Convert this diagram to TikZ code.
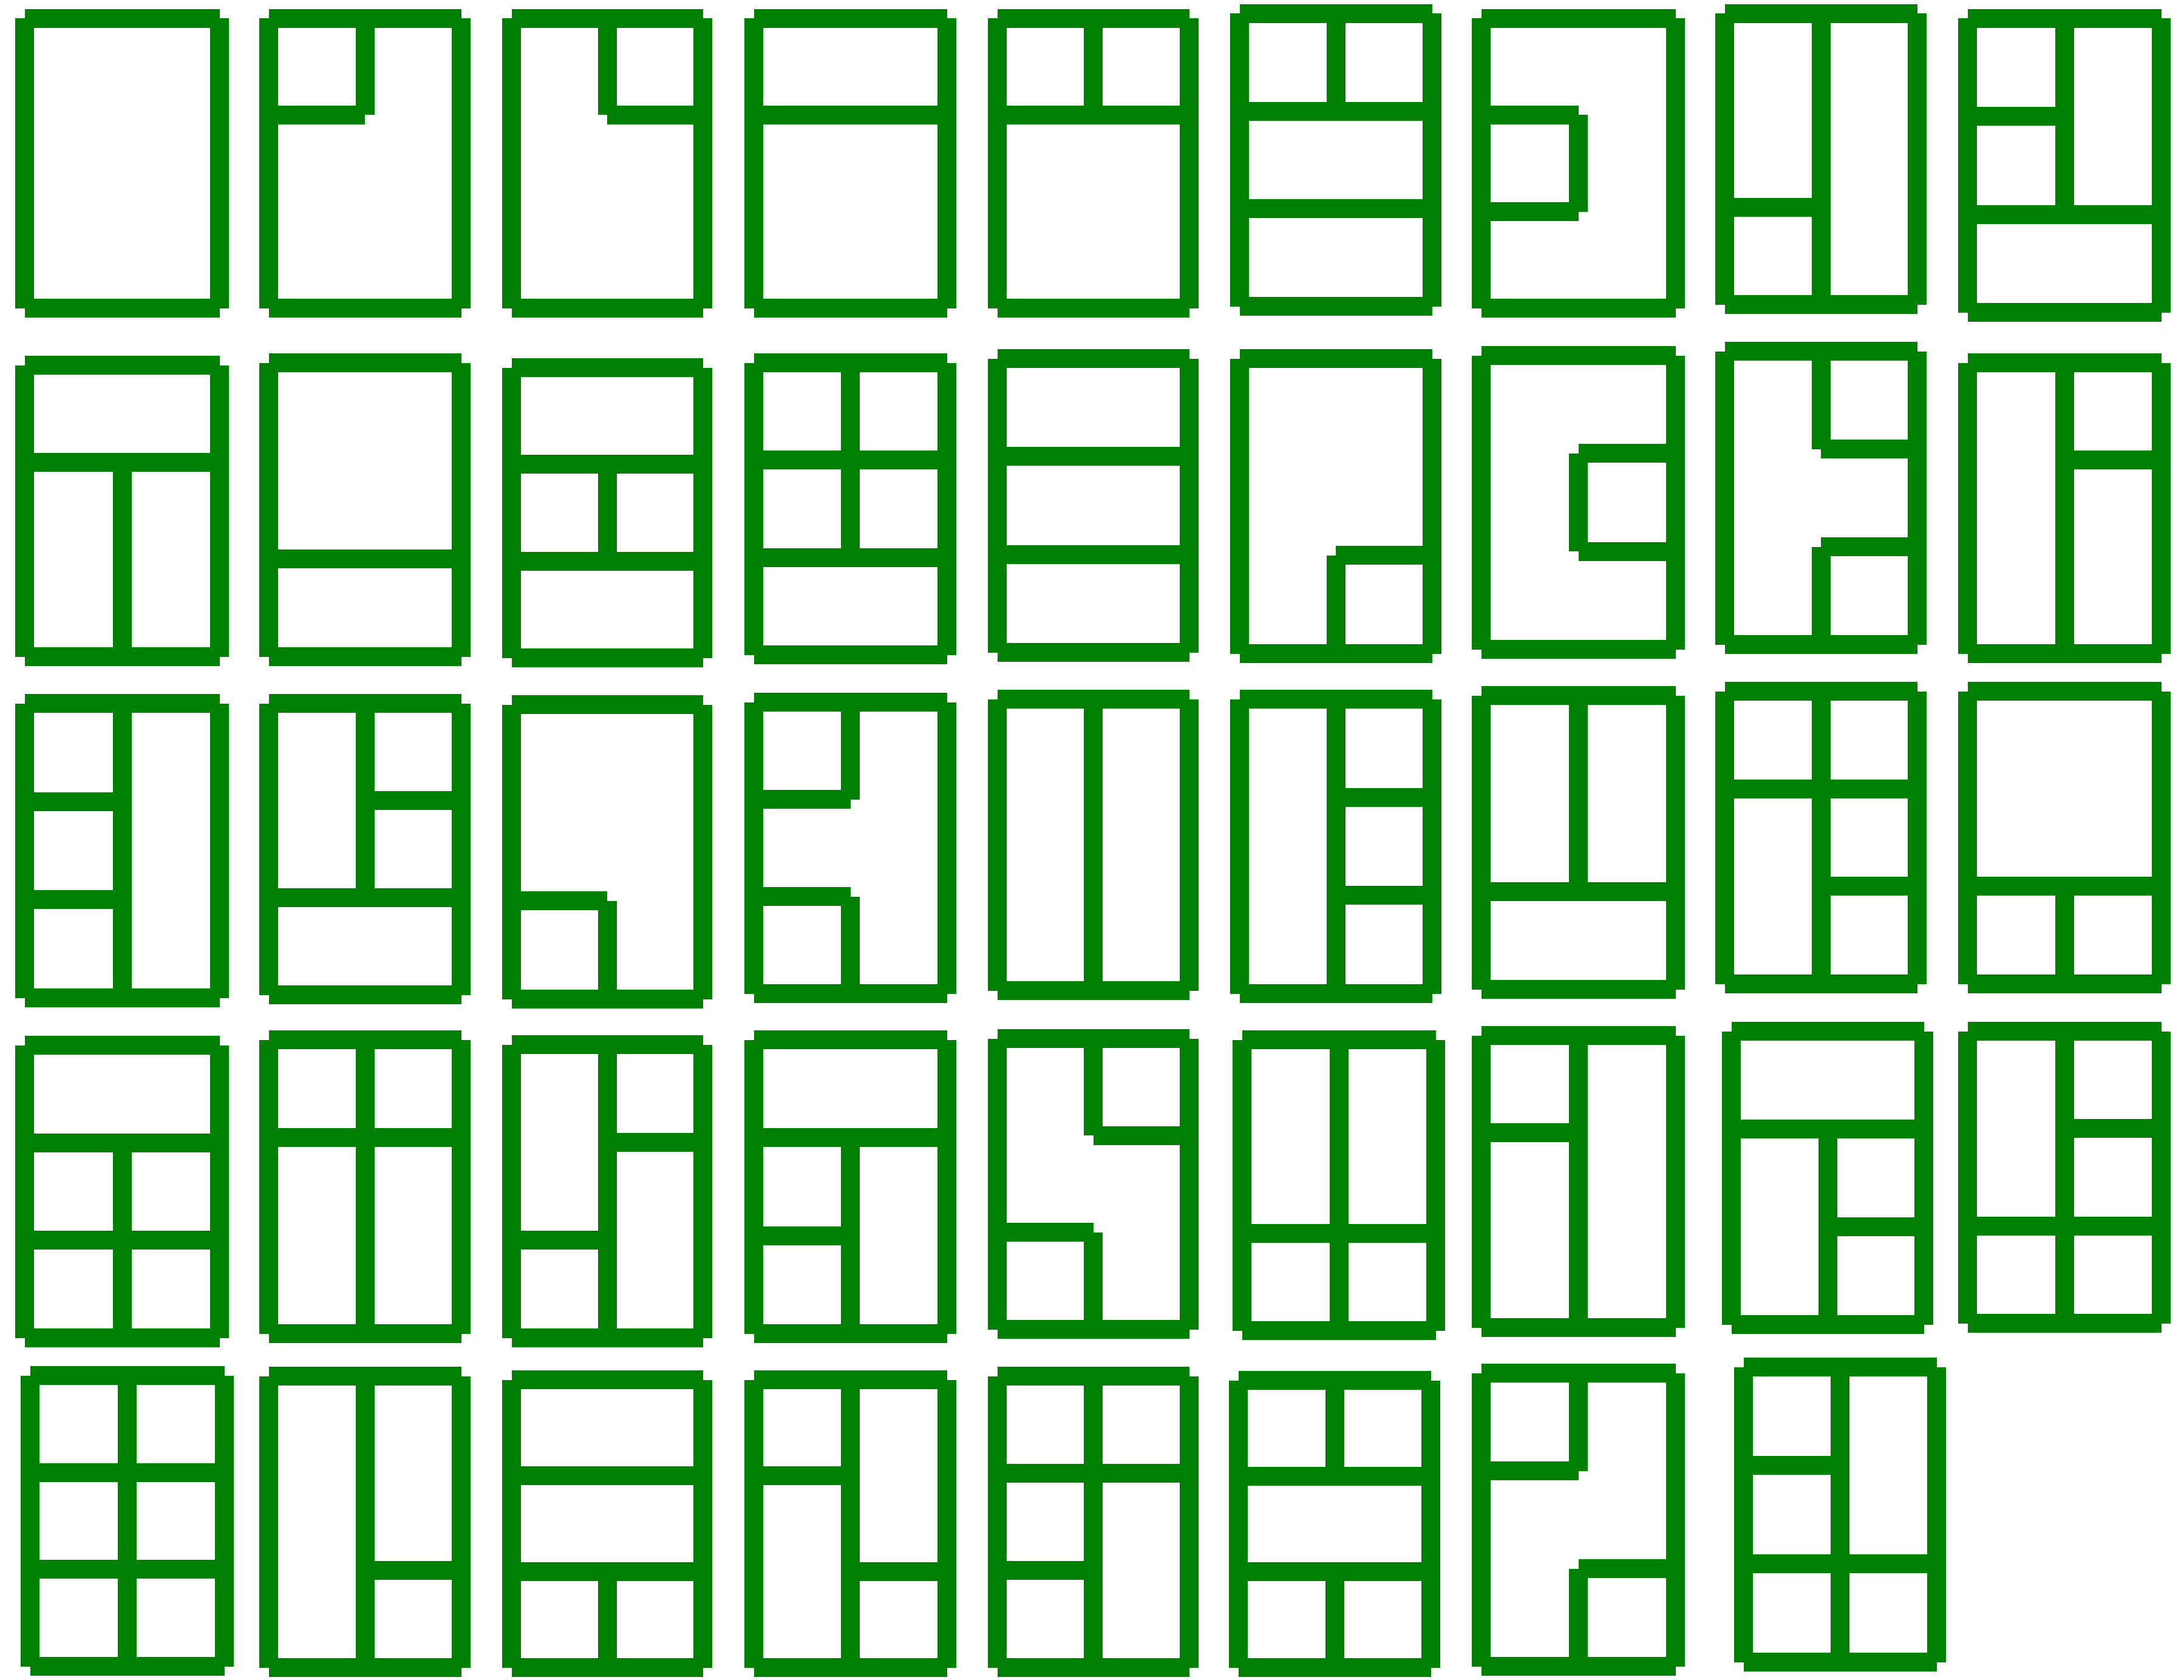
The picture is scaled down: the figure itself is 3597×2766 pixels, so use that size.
\documentclass[tikz,border=0pt]{standalone}
\definecolor{wallgreen}{RGB}{0,128,0}
\tikzset{wall/.style={draw=wallgreen,line width=3.1mm,line cap=butt}}
% internal wall segments of a 2x3 grid
\newcommand\wVa{\draw[wall] (\pxm,\pya) -- (\pxm,\pyb);}
\newcommand\wVb{\draw[wall] (\pxm,\pyb) -- (\pxm,\pyc);}
\newcommand\wVc{\draw[wall] (\pxm,\pyc) -- (\pxm,\pyd);}
\newcommand\wHa{\draw[wall] (\pxa,\pyb) -- (\pxm,\pyb);}
\newcommand\wHb{\draw[wall] (\pxm,\pyb) -- (\pxb,\pyb);}
\newcommand\wHc{\draw[wall] (\pxa,\pyc) -- (\pxm,\pyc);}
\newcommand\wHd{\draw[wall] (\pxm,\pyc) -- (\pxb,\pyc);}
\newcommand\plan[5]{%
  \pgfmathsetmacro\pxa{#1+15.5}\pgfmathsetmacro\pxb{#3-15.5}%
  \pgfmathsetmacro\pya{#2+15.5}\pgfmathsetmacro\pyd{#4-15.5}%
  \pgfmathsetmacro\pxm{(\pxa+\pxb)/2}%
  \pgfmathsetmacro\pyb{\pya+(\pyd-\pya)/3}%
  \pgfmathsetmacro\pyc{\pya+2*(\pyd-\pya)/3}%
  \draw[wall] (\pxa,\pya) -- (\pxb,\pya);
  \draw[wall] (\pxa,\pyd) -- (\pxb,\pyd);
  \draw[wall] (\pxa,\pya) -- (\pxa,\pyd);
  \draw[wall] (\pxb,\pya) -- (\pxb,\pyd);
  #5}
\begin{document}
\begin{tikzpicture}[x=0.1mm,y=-0.1mm]
\useasboundingbox[fill=white] (0,0) rectangle (3597,2766);
% Row 1
\plan{25}{15}{377}{523}{}
\plan{427}{15}{775}{523}{\wVa\wHa}
\plan{827}{15}{1173}{523}{\wVa\wHb}
\plan{1226}{15}{1575}{523}{\wHa\wHb}
\plan{1627}{15}{1974}{523}{\wVa\wHa\wHb}
\plan{2026}{7}{2374}{520}{\wVa\wHa\wHb\wHc\wHd}
\plan{2424}{15}{2775}{523}{\wHa\wHc\wVb}
\plan{2825}{7}{3173}{517}{\wVa\wVb\wVc\wHc}
\plan{3225}{15}{3575}{530}{\wVa\wVb\wHa\wHc\wHd}
% Row 2
\plan{25}{586}{377}{1097}{\wHa\wHb\wVb\wVc}
\plan{427}{582}{775}{1097}{\wHc\wHd}
\plan{827}{590}{1173}{1099}{\wHa\wHb\wVb\wHc\wHd}
\plan{1226}{582}{1575}{1094}{\wVa\wVb\wHa\wHb\wHc\wHd}
\plan{1627}{575}{1974}{1090}{\wHa\wHb\wHc\wHd}
\plan{2026}{575}{2374}{1092}{\wVc\wHd}
\plan{2424}{570}{2775}{1085}{\wHb\wHd\wVb}
\plan{2825}{563}{3173}{1077}{\wVa\wHb\wHd\wVc}
\plan{3225}{582}{3575}{1092}{\wVa\wVb\wVc\wHb}
% Row 3
\plan{25}{1143}{377}{1659}{\wVa\wVb\wVc\wHa\wHc}
\plan{427}{1143}{775}{1654}{\wVa\wVb\wHb\wHc\wHd}
\plan{827}{1145}{1173}{1661}{\wHc\wVc}
\plan{1226}{1141}{1575}{1652}{\wVa\wHa\wHc\wVc}
\plan{1627}{1136}{1974}{1647}{\wVa\wVb\wVc}
\plan{2026}{1136}{2374}{1652}{\wVa\wVb\wVc\wHb\wHd}
\plan{2424}{1130}{2775}{1645}{\wVa\wVb\wHc\wHd}
\plan{2825}{1123}{3173}{1636}{\wVa\wVb\wVc\wHa\wHb\wHd}
\plan{3225}{1123}{3575}{1636}{\wHc\wHd\wVc}
% Row 4
\plan{25}{1706}{377}{2219}{\wHa\wHb\wVb\wVc\wHc\wHd}
\plan{427}{1697}{775}{2212}{\wVa\wVb\wVc\wHa\wHb}
\plan{827}{1705}{1173}{2219}{\wVa\wVb\wVc\wHb\wHc}
\plan{1226}{1697}{1575}{2212}{\wHa\wHb\wVb\wVc\wHc}
\plan{1627}{1695}{1974}{2205}{\wVa\wHb\wHc\wVc}
\plan{2030}{1697}{2380}{2207}{\wVa\wVb\wVc\wHc\wHd}
\plan{2424}{1690}{2775}{2202}{\wVa\wVb\wVc\wHa}
\plan{2836}{1683}{3184}{2197}{\wHa\wHb\wVb\wVc\wHd}
\plan{3225}{1683}{3575}{2195}{\wVa\wVb\wVc\wHb\wHc\wHd}
% Row 5
\plan{34}{2250}{385}{2760}{\wVa\wVb\wVc\wHa\wHb\wHc\wHd}
\plan{427}{2251}{775}{2762}{\wVa\wVb\wVc\wHd}
\plan{827}{2257}{1173}{2762}{\wHa\wHb\wHc\wHd\wVc}
\plan{1226}{2257}{1575}{2762}{\wVa\wVb\wVc\wHa\wHd}
\plan{1627}{2251}{1974}{2762}{\wVa\wVb\wVc\wHa\wHb\wHc}
\plan{2024}{2258}{2372}{2762}{\wVa\wHa\wHb\wHc\wHd\wVc}
\plan{2424}{2246}{2775}{2760}{\wVa\wHa\wHd\wVc}
\plan{2856}{2236}{3205}{2753}{\wVa\wVb\wVc\wHa\wHc\wHd}
\end{tikzpicture}
\end{document}
